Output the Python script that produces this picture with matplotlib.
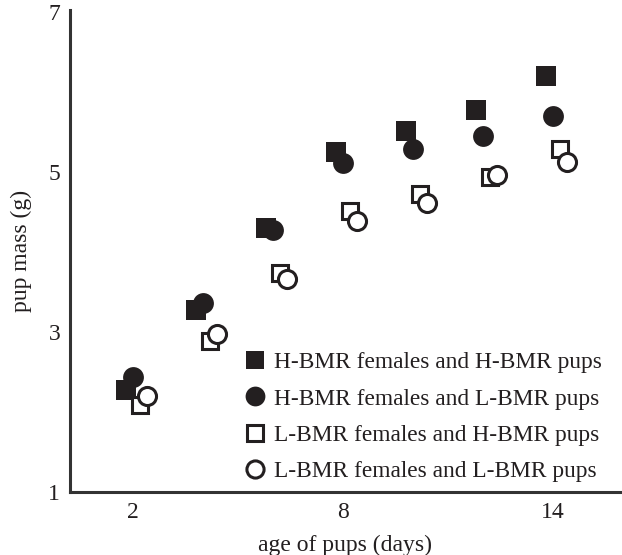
import matplotlib.pyplot as plt
import numpy as np

# pup mass (g) by age
days = np.array([2, 4, 6, 8, 10, 12, 14])
hh_mass = [2.28, 3.28, 4.30, 5.25, 5.51, 5.78, 6.20]   # H-BMR females, H-BMR pups
hl_mass = [2.44, 3.36, 4.28, 5.11, 5.29, 5.45, 5.71]   # H-BMR females, L-BMR pups
lh_mass = [2.09, 2.89, 3.74, 4.51, 4.73, 4.94, 5.29]   # L-BMR females, H-BMR pups
ll_mass = [2.20, 2.98, 3.66, 4.39, 4.62, 4.96, 5.13]   # L-BMR females, L-BMR pups

labels = ['H-BMR females and H-BMR pups',
          'H-BMR females and L-BMR pups',
          'L-BMR females and H-BMR pups',
          'L-BMR females and L-BMR pups']

plt.rcParams['font.family'] = ['Liberation Serif', 'DejaVu Serif']
ink = '#231f20'

fig = plt.figure(figsize=(6.22, 5.55), dpi=100)
ax = fig.add_axes([70/622, 63/555, 550/622, 482/555])

#dodge the groups sideways so they don't sit on top of each other
ax.plot(days - 0.2, hh_mass, 's', ms=14, color=ink, mec=ink, mew=0, label=labels[0])
ax.plot(days, hl_mass, 'o', ms=15, color=ink, mec=ink, mew=0, label=labels[1])
ax.plot(days + 0.2, lh_mass, 's', ms=12, mfc='white', mec=ink, mew=2.2, label=labels[2])
ax.plot(days + 0.4, ll_mass, 'o', ms=13, mfc='white', mec=ink, mew=2.2, label=labels[3])

ax.set_xlim(0.2, 15.91)
ax.set_ylim(1.0, 7.03)
ax.set_xticks([2, 8, 14])
ax.set_yticks([1, 3, 5, 7])
ax.tick_params(length=0, labelsize=17, colors=ink, pad=7)

for s in ['top', 'right']:
    ax.spines[s].set_visible(False)
for s in ['left', 'bottom']:
    ax.spines[s].set_linewidth(2.2)
    ax.spines[s].set_color('#333333')

ax.set_xlabel('age of pups (days)', fontsize=17, color=ink, labelpad=9)
ax.set_ylabel('pup mass (g)', fontsize=17, color=ink, labelpad=12)

leg = ax.legend(loc='upper left', bbox_to_anchor=(243/622, 1 - 352/555),
                bbox_transform=fig.transFigure, frameon=False, fontsize=16.8,
                handlelength=1.0, handletextpad=0.35, labelspacing=0.64,
                borderpad=0, borderaxespad=0, markerscale=0.95)
for t in leg.get_texts():
    t.set_color(ink)

plt.savefig('out.png', dpi=100)
